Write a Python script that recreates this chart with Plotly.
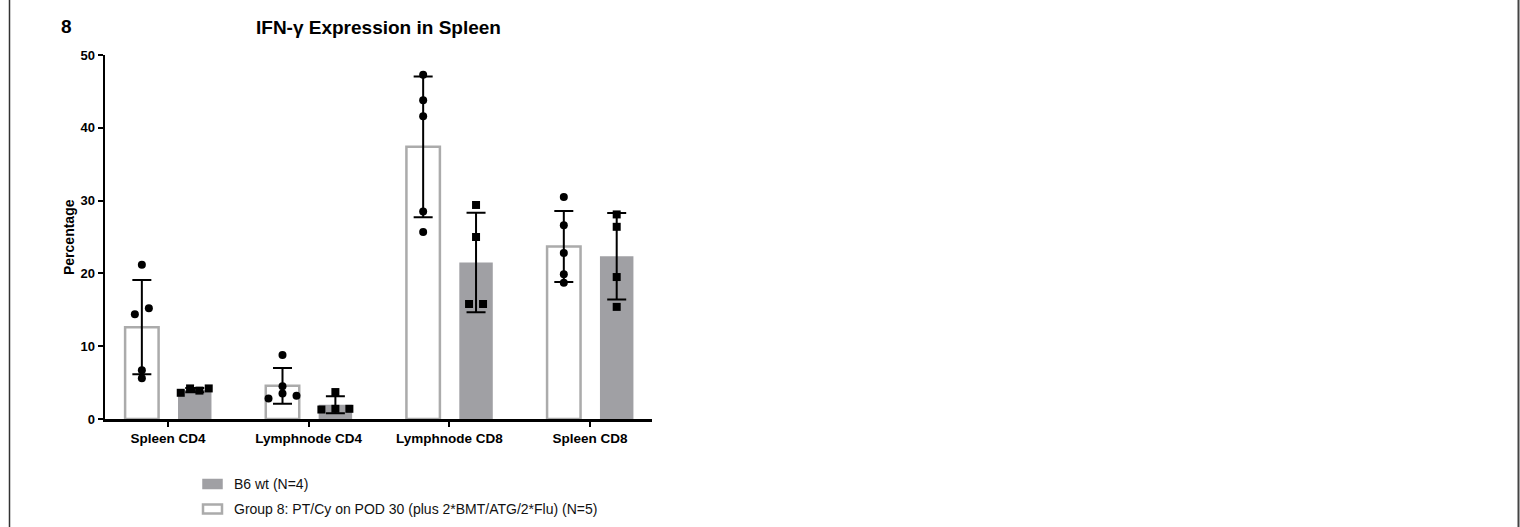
import numpy as np
import plotly.graph_objects as go

# ---------------- data ----------------
categories = ["Spleen CD4", "Lymphnode CD4", "Lymphnode CD8", "Spleen CD8"]
group8_label = "Group 8: PT/Cy on POD 30 (plus 2*BMT/ATG/2*Flu) (N=5)"
b6_label = "B6 wt (N=4)"
group8_values = [
    [21.2, 14.4, 15.2, 6.7, 5.6],
    [8.8, 4.5, 2.8, 3.5, 3.2],
    [47.3, 43.8, 41.6, 28.5, 25.7],
    [30.5, 26.6, 22.8, 19.9, 18.7],
]
b6_values = [
    [3.6, 4.2, 3.9, 4.2],
    [3.7, 1.3, 1.4, 1.4],
    [29.4, 25.0, 15.8, 15.8],
    [28.1, 26.4, 19.5, 15.4],
]
y_ticks = [0, 10, 20, 30, 40, 50]
chart_title = "IFN-γ Expression in Spleen"
panel_label = "8"
y_title = "Percentage"

# ---------------- layout constants ----------------
W, H = 1520, 527
# plot area in page pixels: x 105..652, y 55..419
PL, PR, PT, PB = 105, 652, 55, 419
ML, MT, MR, MB = PL, PT, W - PR, H - PB
PW, PH = PR - PL, PB - PT
X_RANGE = [-0.448, 3.441]
Y_RANGE = [0, 50]
BAR_W = 0.238
OFF_G8, OFF_B6 = -0.186, 0.19
GRAY_FILL = "#a0a0a4"
GRAY_LINE = "#ababab"
FONT = "Liberation Sans, Arial, Helvetica, sans-serif"


def px_x(p):
    """page pixel x -> paper coordinate"""
    return (p - PL) / PW


def px_y(p):
    """page pixel y -> paper coordinate"""
    return (PB - p) / PH


def jitter(vals, thr=0.95, step=0.0995, span=0.199):
    """Spread overlapping points horizontally (GraphPad-like scatter)."""
    order = sorted(range(len(vals)), key=lambda i: vals[i])
    clusters = []
    for i in order:
        if clusters and vals[i] - vals[clusters[-1][-1]] < thr:
            clusters[-1].append(i)
        else:
            clusters.append([i])
    offs = [0.0] * len(vals)
    for c in clusters:
        c = sorted(c)
        n = len(c)
        if n > 1:
            s = min(step, span / (n - 1))
            for k, i in enumerate(c):
                offs[i] = (k - (n - 1) / 2) * s
    return offs


x_idx = np.arange(len(categories))
g8_mean = [float(np.mean(v)) for v in group8_values]
g8_sd = [float(np.std(v, ddof=1)) for v in group8_values]
b6_mean = [float(np.mean(v)) for v in b6_values]
b6_sd = [float(np.std(v, ddof=1)) for v in b6_values]

fig = go.Figure()

err = dict(type="data", color="black", thickness=2, width=9.5)

fig.add_trace(go.Bar(
    x=x_idx + OFF_G8, y=g8_mean, width=BAR_W, name=group8_label,
    marker=dict(color="white", line=dict(color=GRAY_LINE, width=2.5)),
    error_y=dict(array=g8_sd, **err), showlegend=False,
))
fig.add_trace(go.Bar(
    x=x_idx + OFF_B6, y=b6_mean, width=BAR_W, name=b6_label,
    marker=dict(color=GRAY_FILL, line=dict(width=0)),
    error_y=dict(array=b6_sd, **err), showlegend=False,
))

# individual points
gx, gy, bx, by = [], [], [], []
for i, vals in enumerate(group8_values):
    for v, o in zip(vals, jitter(vals)):
        gx.append(i + OFF_G8 + o)
        gy.append(v)
for i, vals in enumerate(b6_values):
    for v, o in zip(vals, jitter(vals)):
        bx.append(i + OFF_B6 + o)
        by.append(v)

fig.add_trace(go.Scatter(
    x=gx, y=gy, mode="markers", showlegend=False, cliponaxis=False,
    marker=dict(symbol="circle", size=8, color="black"),
))
fig.add_trace(go.Scatter(
    x=bx, y=by, mode="markers", showlegend=False, cliponaxis=False,
    marker=dict(symbol="square", size=8, color="black"),
))

axis_common = dict(
    showline=True, linecolor="black", linewidth=2.5, showgrid=False,
    zeroline=False, ticks="outside", ticklen=5, tickwidth=2, tickcolor="black",
)

fig.update_layout(
    width=W, height=H,
    margin=dict(l=ML, r=MR, t=MT, b=MB, autoexpand=False),
    paper_bgcolor="white", plot_bgcolor="white",
    font=dict(family=FONT, color="black"),
    barmode="overlay",
    xaxis=dict(range=X_RANGE, tickvals=list(x_idx), ticktext=categories,
               tickfont=dict(family=FONT, size=13.5, color="black", weight="bold"),
               **axis_common),
    yaxis=dict(range=Y_RANGE, tickvals=y_ticks,
               tickfont=dict(family=FONT, size=13, color="black", weight="bold"),
               **axis_common),
)

annotations = [
    dict(text=chart_title, xref="paper", yref="paper", x=px_x(378), y=px_y(27),
         showarrow=False, xanchor="center", yanchor="middle",
         font=dict(family=FONT, size=19, color="black", weight="bold")),
    dict(text=panel_label, xref="paper", yref="paper", x=px_x(66), y=px_y(26),
         showarrow=False, xanchor="center", yanchor="middle",
         font=dict(family=FONT, size=19, color="black", weight="bold")),
    dict(text=y_title, xref="paper", yref="paper", x=px_x(69), y=0.5,
         textangle=-90, showarrow=False, xanchor="center", yanchor="middle",
         font=dict(family=FONT, size=14, color="black", weight="bold")),
]

shapes = [
    # page borders
    dict(type="line", xref="paper", yref="paper", x0=px_x(9.5), x1=px_x(9.5),
         y0=px_y(H), y1=px_y(0), line=dict(color="#333333", width=1.5)),
    dict(type="line", xref="paper", yref="paper", x0=px_x(1518.5), x1=px_x(1518.5),
         y0=px_y(H), y1=px_y(0), line=dict(color="#444444", width=2)),
]

# custom legend (B6 first, then Group 8)
legend_rows = [
    (b6_label, 484, dict(fillcolor=GRAY_FILL, line=dict(color=GRAY_FILL, width=1.5))),
    (group8_label, 509, dict(fillcolor="white", line=dict(color=GRAY_LINE, width=2.5))),
]
for label, yc, style in legend_rows:
    shapes.append(dict(type="rect", xref="paper", yref="paper",
                       x0=px_x(203), x1=px_x(222), y0=px_y(yc + 4.5), y1=px_y(yc - 4.5),
                       **style))
    annotations.append(dict(text=label, xref="paper", yref="paper", x=px_x(232),
                            y=px_y(yc), showarrow=False, xanchor="left", yanchor="middle",
                            font=dict(family=FONT, size=14, color="#111111")))

fig.update_layout(annotations=annotations, shapes=shapes)

# remove the default 8px page margin so the figure fills the window exactly
fig.write_html(
    "out.html",
    config={"displayModeBar": False, "staticPlot": True},
    post_script="document.body.style.margin='0';document.body.style.overflow='hidden';",
)
